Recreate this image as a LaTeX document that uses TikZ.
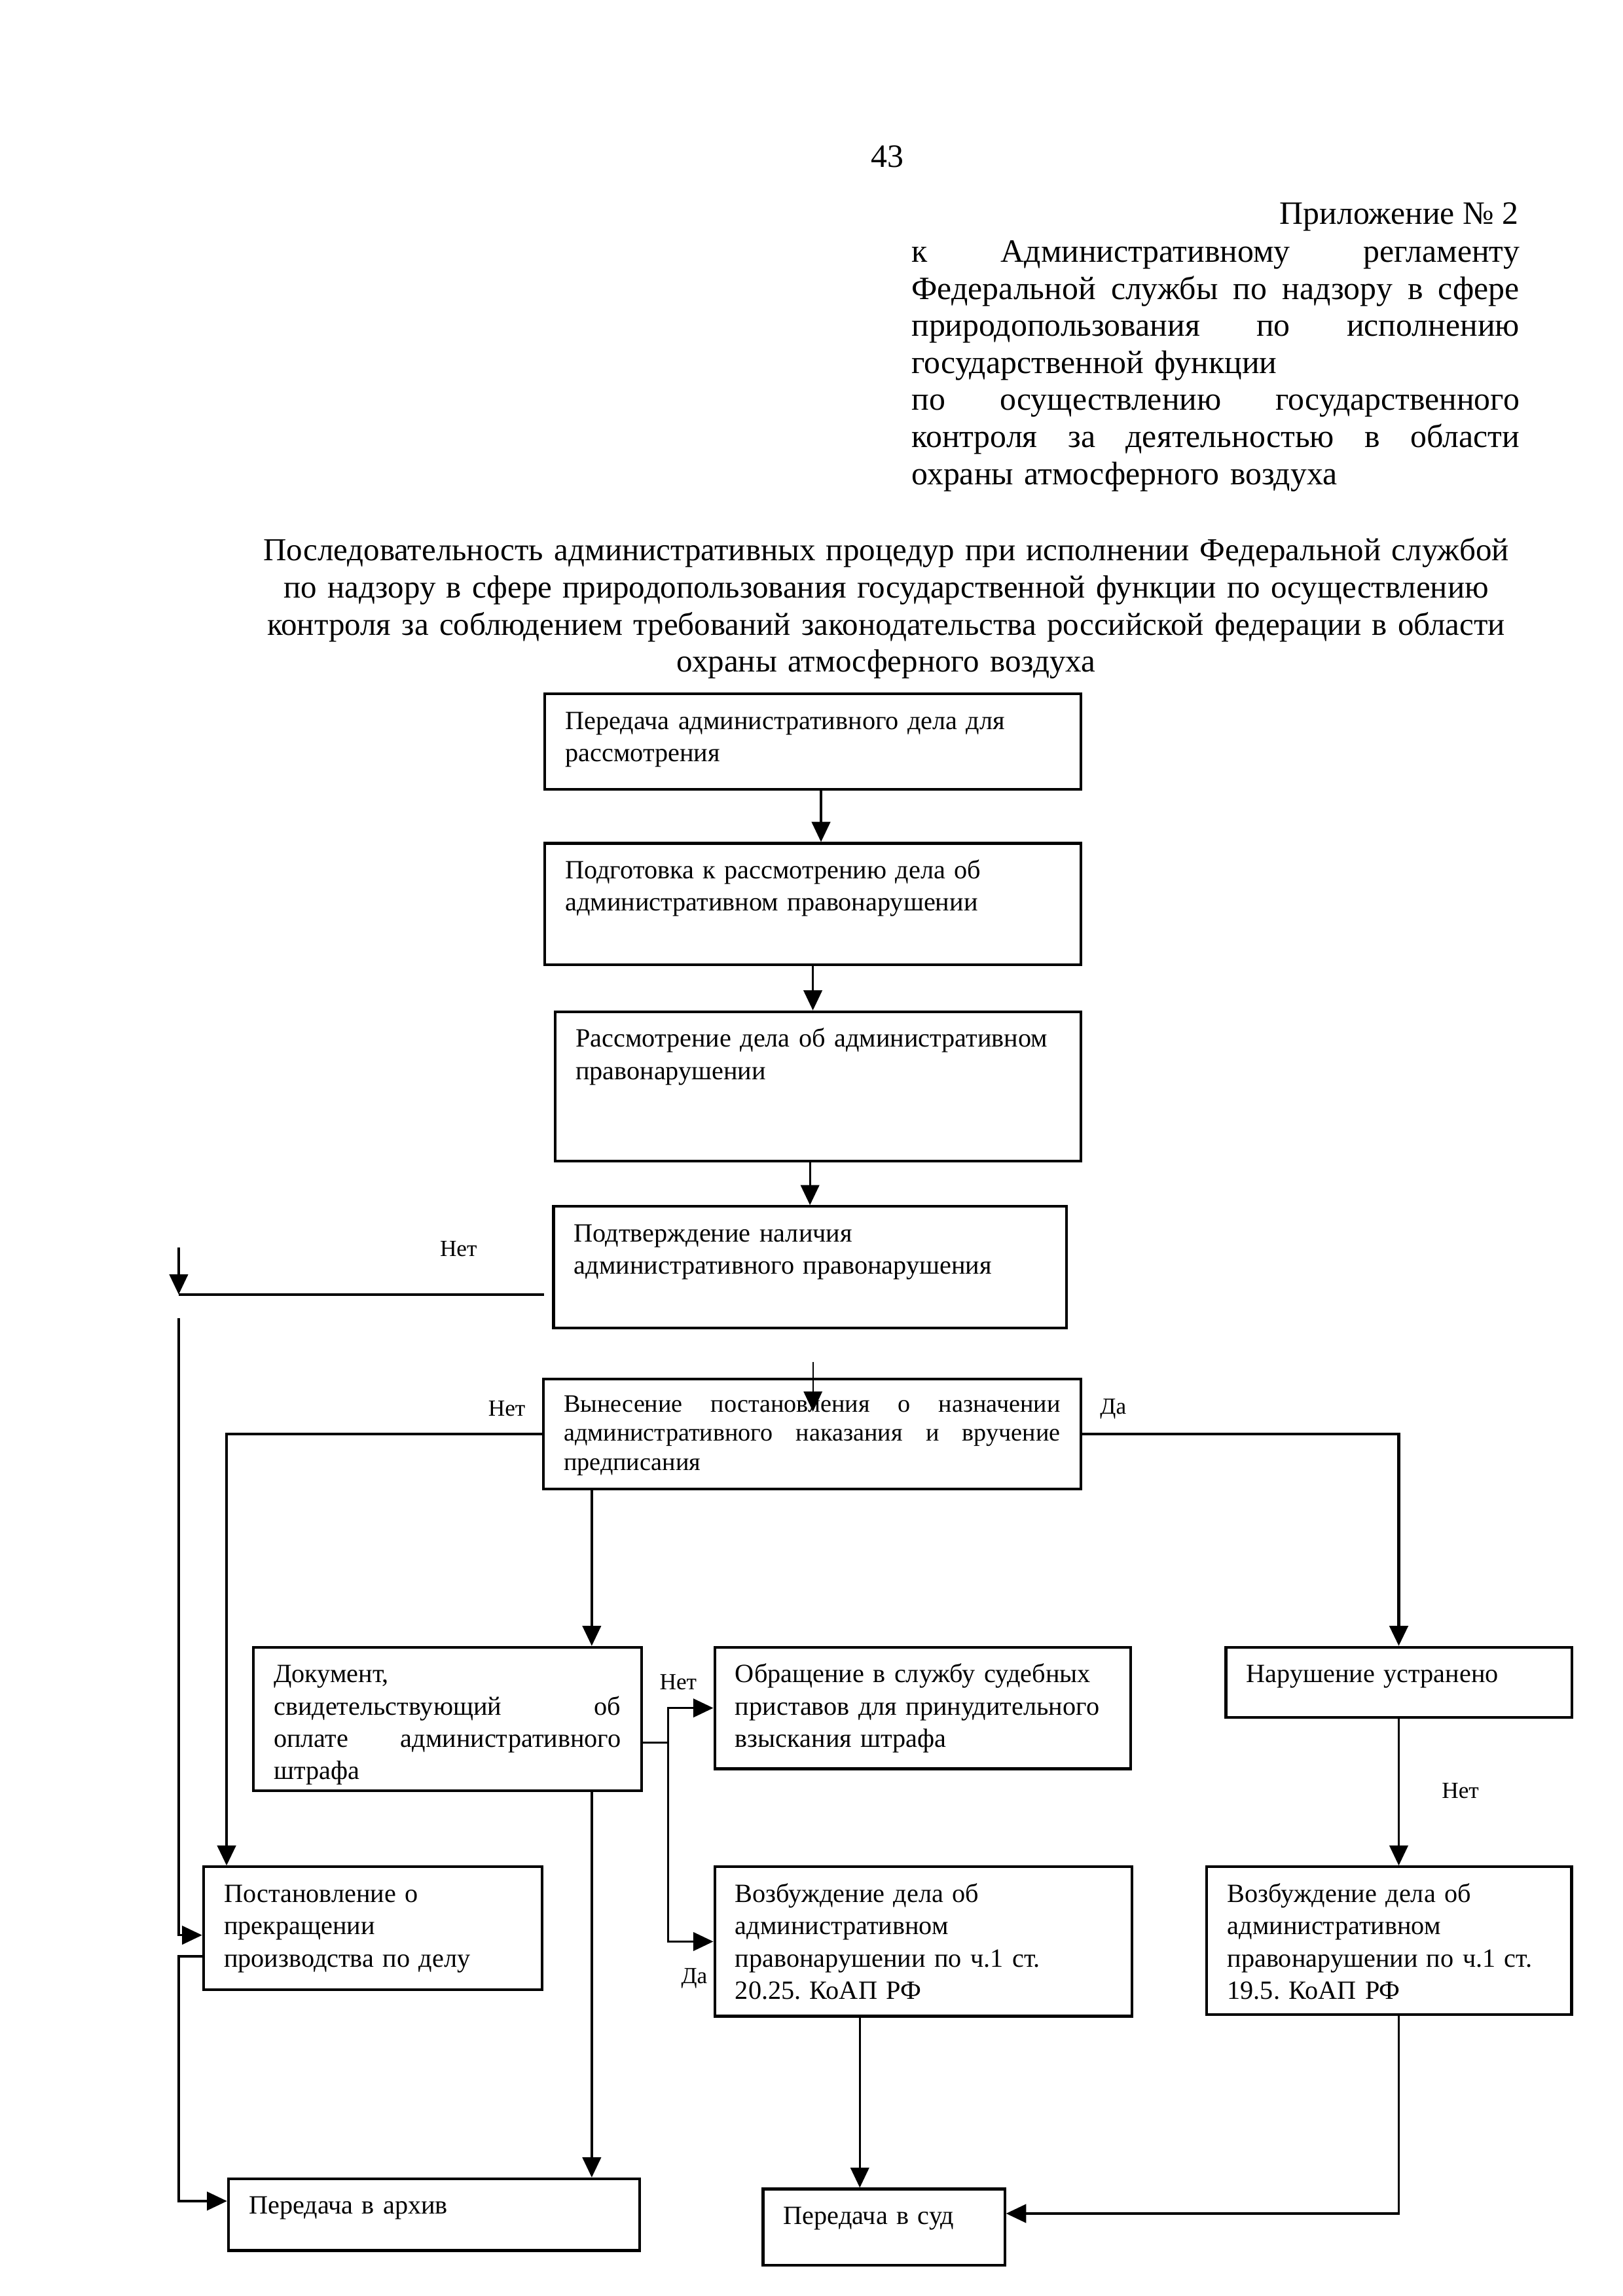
\documentclass[tikz,border=0pt]{standalone}
\usepackage{fontspec}
\setmainfont{Liberation Serif}
\usetikzlibrary{arrows.meta}
\frenchspacing
\newcommand{\jl}[1]{\leavevmode\hbox to \hsize{#1}}

\begin{document}
\begin{tikzpicture}[x=0.18953mm, y=-0.18953mm,
    blk/.style={draw, line width=1pt, anchor=north west, align=left,
      inner xsep=7.55pt, inner ysep=0pt, text height=13pt,
      font=\fontsize{9.7}{11.9}\selectfont},
    arr/.style={line width=0.8pt, -{Triangle[length=2.6mm, width=2.4mm]}},
    ln/.style={line width=0.8pt},
    lbl/.style={font=\fontsize{8.5}{10}\selectfont, inner sep=0pt}]
    \useasboundingbox (0,0) rectangle (1108,1568);

    % Page number and appendix heading
    \node[font=\fontsize{12}{13.65}\selectfont] (num) at (606,107) {43};
    \node[anchor=base east, inner sep=0pt, font=\fontsize{12}{13.65}\selectfont] (app) at (1037,153) {Приложение №~2};
    \node[anchor=base west, text width=223.8pt, align=left, inner sep=0pt,
      font=\fontsize{12}{13.65}\selectfont] (reg) at (622,179)
      {\jl{к\hfill Административному\hfill регламенту}\\
       \jl{Федеральной\hfill службы\hfill по\hfill надзору\hfill в\hfill сфере}\\
       \jl{природопользования\hfill по\hfill исполнению}\\
       государственной функции\\
       \jl{по\hfill осуществлению\hfill государственного}\\
       \jl{контроля\hfill за\hfill деятельностью\hfill в\hfill области}\\
       охраны атмосферного воздуха};

    % Title
    \node[anchor=base, text width=480pt, align=center, inner sep=0pt,
      font=\fontsize{11.8}{13.65}\selectfont] (title) at (605,383)
      {Последовательность административных процедур при исполнении Федеральной службой\\
       по надзору в сфере природопользования государственной функции по осуществлению\\
       контроля за соблюдением требований законодательства российской федерации в области\\
       охраны атмосферного воздуха};

    % Main chain
    \node[blk, text width=182.3pt, text depth=22.05pt] (b1) at (371,473)
      {Передача административного дела для\\ рассмотрения};
    \node[blk, text width=182.3pt, text depth=31.76pt] (b2) at (371,575)
      {Подготовка к рассмотрению дела об\\ административном правонарушении};
    \node[blk, text width=178.5pt, text depth=42pt] (b3) at (378,690)
      {Рассмотрение дела об административном\\ правонарушении};
    \node[blk, text width=173.7pt, text depth=31.76pt] (b4) at (377,823)
      {Подтверждение наличия\\ административного правонарушения};
    \node[blk, text width=182.8pt, text height=12pt, text depth=28.45pt,
      font=\fontsize{9.2}{10.8}\selectfont] (b5) at (370,941)
      {\jl{Вынесение\hfill постановления\hfill о\hfill назначении}\\
       \jl{административного\hfill наказания\hfill и\hfill вручение}\\
       предписания};

    % Second level
    \node[blk, text width=127.8pt, text depth=39.85pt] (b6) at (172,1124)
      {Документ,\\ \jl{свидетельствующий\hfill об}\\ \jl{оплате\hfill административного}\\ штрафа};
    \node[blk, text width=138.1pt, text depth=31.76pt] (b7) at (487,1124)
      {Обращение в службу судебных\\ приставов для принудительного\\ взыскания штрафа};
    \node[blk, text width=112.2pt, text depth=12.89pt] (b8) at (836,1124)
      {Нарушение устранено};

    % Third level
    \node[blk, text width=109.5pt, text depth=32.3pt] (b9) at (138,1274)
      {Постановление о\\ прекращении\\ производства по делу};
    \node[blk, text width=138.6pt, text depth=42pt] (b10) at (487,1274)
      {Возбуждение дела об\\ административном\\ правонарушении по ч.1 ст.\\ 20.25. КоАП РФ};
    \node[blk, text width=119.2pt, text depth=41.47pt] (b11) at (823,1274)
      {Возбуждение дела об\\ административном\\ правонарушении по ч.1 ст.\\ 19.5. КоАП РФ};

    % Final boxes
    \node[blk, text width=136.4pt, text depth=13.43pt] (b12) at (155,1487)
      {Передача в архив};
    \node[blk, text width=73.9pt, text depth=15.04pt] (b13) at (520,1494)
      {Передача в суд};

    % Helper points
    \coordinate (n0) at (122,852);
    \coordinate (n1) at (122,884);
    \coordinate (n2) at (122,900);
    \coordinate (n3) at (122,1336);
    \coordinate (t0) at (555,930);
    \coordinate (t1) at (555,964);
    \coordinate (xa) at (404,0);
    \coordinate (xb) at (456,1190);
    \coordinate (xc) at (587,0);

    % Arrows of the main chain
    \draw[arr] ([xshift=3pt]b1.south) -- ([xshift=3pt]b2.north);
    \draw[arr] (b2.south) -- (b2.south |- b3.north);
    \draw[arr] (b4.north |- b3.south) -- (b4.north);
    \draw[arr, line width=0.5pt] (t0) -- (t1);

    % No offence: to the left column
    \draw[ln, line width=1pt, shorten <=3pt] (b4.west |- n1) -- (n1);
    \draw[arr] (n0) -- (n1);
    \draw[arr] (n2) |- ([yshift=-2.5pt]b9.west);
    \draw[arr] (b9.west |- n3) -- (n3) |- ([yshift=5pt]b12.west);
    \node[lbl] (no1) at (313,853) {Нет};

    % Decision branches
    \draw[arr, line width=1pt] (b5.west) -| ([xshift=9pt]b9.north west);
    \draw[arr, line width=1pt] (b5.east) -| (b8.north);
    \draw[arr] (b5.south -| xa) -- (b6.north -| xa);
    \node[lbl] (no2) at (346,962) {Нет};
    \node[lbl] (yes1) at (760,962) {Да};

    % Fine paid or not
    \draw[ln] (b6.east |- xb) -- (xb);
    \draw[arr] (xb) |- (b7.west);
    \draw[arr] (xb) |- (b10.west);
    \draw[arr] (b6.south -| xa) -- (b12.north -| xa);
    \node[lbl] (no3) at (463,1149) {Нет};
    \node[lbl] (yes2) at (474,1351) {Да};

    % Violation removed or not
    \draw[arr] (b8.south) -- (b8.south |- b11.north);
    \node[lbl] (no4) at (997,1223) {Нет};

    % To court
    \draw[arr] (b10.south -| xc) -- (b13.north -| xc);
    \draw[arr] (b11.south -| b8.south) |- ([yshift=5pt]b13.east);
\end{tikzpicture}
\end{document}
